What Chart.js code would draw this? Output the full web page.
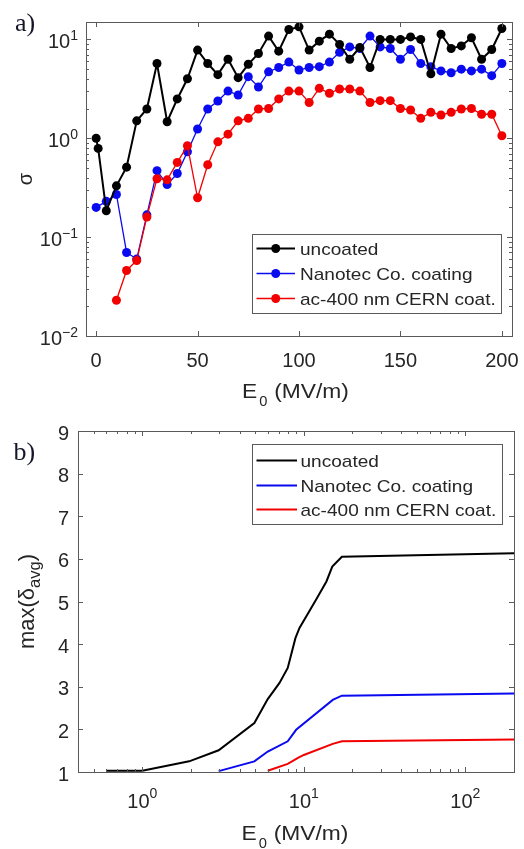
<!DOCTYPE html>
<html><head><meta charset="utf-8">
<script src="https://cdn.jsdelivr.net/npm/chart.js@4.4.0/dist/chart.umd.min.js"></script>
<style>
html,body{margin:0;padding:0;background:#fff;width:524px;height:849px;overflow:hidden}
canvas{position:absolute;left:0}
</style></head><body>
<canvas id="c1" width="524" height="415" style="top:0px"></canvas>
<canvas id="c2" width="524" height="434" style="top:415px"></canvas>
<script>
// ---------- series meta ----------
const seriesLabels = ['uncoated', 'Nanotec Co. coating', 'ac-400 nm CERN coat.'];
const seriesColors = ['#000000', '#0a0af0', '#f20000'];

// ---------- panel a) : sigma vs E0 ----------
const uncoatedE = [0,1,5,10,15,20,25,30,35,40,45,50,55,60,65,70,75,80,85,90,95,100,105,110,115,120,125,130,135,140,145,150,155,160,165,170,175,180,185,190,195,200];
const uncoatedSigma = [1.0,0.79,0.185,0.33,0.51,1.5,1.98,5.7,1.47,2.5,4.0,7.8,5.7,4.4,6.3,4.1,5.6,7.2,10.8,7.6,12.6,13.4,7.8,9.6,11.3,8.9,6.3,8.3,5.2,10,10,10,10.6,10,4.5,11.3,8.1,8.6,10.4,6.3,7.9,12.9];
const nanotecE = [0,5,10,15,20,25,30,35,40,45,50,55,60,65,70,75,80,85,90,95,100,105,110,115,120,125,130,135,140,145,150,155,160,165,170,175,180,185,190,195,200];
const nanotecSigma = [0.20,0.23,0.27,0.07,0.06,0.168,0.47,0.34,0.44,0.73,1.24,1.98,2.38,3.0,2.74,4.2,3.3,4.7,5.2,5.9,4.9,5.2,5.3,5.9,7.4,8.4,8.1,10.8,8.4,8.1,6.3,7.9,5.7,5.3,4.8,4.6,5.0,4.8,5.0,4.3,5.7];
const cernE = [10,15,20,25,30,35,40,45,50,55,60,65,70,75,80,85,90,95,100,105,110,115,120,125,130,135,140,145,150,155,160,165,170,175,180,185,190,195,200];
const cernSigma = [0.023,0.046,0.058,0.16,0.39,0.38,0.57,0.84,0.25,0.54,0.92,1.1,1.5,1.59,1.98,2.0,2.5,3.0,3.0,2.3,3.2,2.85,3.15,3.15,3.0,2.3,2.4,2.4,2.0,1.93,1.59,1.83,1.72,1.83,1.98,2.0,1.75,1.75,1.06];
const topXTicks = [0, 50, 100, 150, 200];
const topYTicks = [0.01, 0.1, 1, 10];
const topYExp = ['\u22122', '\u22121', '0', '1'];

// ---------- panel b) : max(delta_avg) vs E0 ----------
const uncoatedE0 = [0.6,1.0,1.95,2.97,4.94,5.98,7.07,7.95,8.87,9.4,11.9,13.8,15.0,17.2,200];
const uncoatedMax = [1.03,1.03,1.25,1.51,2.15,2.71,3.09,3.44,4.14,4.38,5.04,5.47,5.82,6.05,6.13];
const nanotecE0 = [2.97,4.94,5.98,7.95,8.96,15.1,17.2,200];
const nanotecMax = [1.02,1.25,1.48,1.72,1.99,2.69,2.79,2.84];
const cernE0 = [5.98,7.95,9.2,10,15.1,17.2,200];
const cernMax = [1.03,1.19,1.33,1.40,1.66,1.72,1.76];
const botXTicks = [1, 10, 100];
const botXExp = ['0', '1', '2'];
const botYTicks = [1, 2, 3, 4, 5, 6, 7, 8, 9];

// ---------- helpers ----------
const SANS = '"Liberation Sans", Arial, Helvetica, sans-serif';
const SERIF = '"Liberation Serif", "Times New Roman", serif';
const AXIS = '#5a5a5a';
const TXT = '#262626';

function pts(xs, ys) { return xs.map((x, i) => ({ x: x, y: ys[i] })); }

function drawT(ctx, s, x, y, size, align, stretch, family, color) {
  stretch = stretch || 1;
  ctx.save();
  ctx.font = size + 'px ' + (family || SANS);
  ctx.fillStyle = color || TXT;
  ctx.textBaseline = 'alphabetic';
  ctx.textAlign = 'left';
  const w = ctx.measureText(s).width * stretch;
  let x0 = x;
  if (align === 'center') x0 = x - w / 2;
  else if (align === 'right') x0 = x - w;
  ctx.translate(x0, y);
  ctx.scale(stretch, 1);
  ctx.fillText(s, 0, 0);
  ctx.restore();
  return w;
}
function measure(ctx, s, size) {
  ctx.save(); ctx.font = size + 'px ' + SANS; const w = ctx.measureText(s).width; ctx.restore(); return w;
}
function drawPow(ctx, exp, x, y, align, raise) {
  const w1 = measure(ctx, '10', 20), w2 = measure(ctx, exp, 14);
  const tot = w1 + w2;
  let x0 = x;
  if (align === 'center') x0 = x - tot / 2; else if (align === 'right') x0 = x - tot;
  drawT(ctx, '10', x0, y, 20, 'left');
  drawT(ctx, exp, x0 + w1, y - raise, 14, 'left');
}
function drawE0Title(ctx, x0, y) {
  const wE = drawT(ctx, 'E', x0, y, 20, 'left', 1.14);
  drawT(ctx, '0', x0 + wE + 2, y + 8, 14, 'left', 1.05);
  drawT(ctx, '(MV/m)', x0 + wE + 17, y, 20, 'left', 1.14);
}
function drawBox(ctx, a) {
  ctx.save();
  ctx.strokeStyle = AXIS; ctx.lineWidth = 1;
  ctx.strokeRect(Math.round(a.left) + 0.5, Math.round(a.top) + 0.5, Math.round(a.right - a.left), Math.round(a.bottom - a.top));
  ctx.restore();
}
function drawLegend(ctx, chart, box, markers) {
  ctx.save();
  ctx.fillStyle = '#fff';
  ctx.fillRect(box.x, box.y, box.w, box.h);
  ctx.strokeStyle = AXIS; ctx.lineWidth = 1;
  ctx.strokeRect(box.x + 0.5, box.y + 0.5, box.w, box.h);
  chart.data.datasets.forEach((ds, i) => {
    const y = box.rows[i];
    ctx.strokeStyle = ds.borderColor;
    ctx.lineWidth = ds.borderWidth;
    ctx.beginPath(); ctx.moveTo(box.l1, y); ctx.lineTo(box.l2, y); ctx.stroke();
    if (markers) {
      ctx.fillStyle = ds.borderColor;
      ctx.beginPath(); ctx.arc((box.l1 + box.l2) / 2, y, 4.5, 0, Math.PI * 2); ctx.fill();
    }
    drawT(ctx, ds.label, box.tx, y + 6.5, 17, 'left', 1.12);
  });
  ctx.restore();
}

// ---------- panel a) ----------
const decoA = {
  id: 'decoA',
  afterDraw(chart) {
    const ctx = chart.ctx, a = chart.chartArea, xs = chart.scales.x, ys = chart.scales.y;
    ctx.save();
    ctx.strokeStyle = AXIS; ctx.lineWidth = 1;
    ctx.beginPath();
    topXTicks.forEach(v => {
      const p = Math.round(xs.getPixelForValue(v)) + 0.5;
      ctx.moveTo(p, a.bottom); ctx.lineTo(p, a.bottom - 5);
      ctx.moveTo(p, a.top); ctx.lineTo(p, a.top + 5);
    });
    topYTicks.forEach(d => {
      for (let k = 1; k <= 9; k++) {
        const v = k * d;
        if (v > ys.max * 1.0001 || v < ys.min * 0.9999) continue;
        const p = Math.round(ys.getPixelForValue(v)) + 0.5;
        const L = k === 1 ? 5 : 3;
        ctx.moveTo(a.left, p); ctx.lineTo(a.left + L, p);
        ctx.moveTo(a.right, p); ctx.lineTo(a.right - L, p);
      }
    });
    ctx.stroke();
    ctx.restore();
    drawBox(ctx, a);
    topXTicks.forEach(v => drawT(ctx, String(v), xs.getPixelForValue(v), a.bottom + 31, 20, 'center'));
    topYTicks.forEach((v, i) => drawPow(ctx, topYExp[i], a.left - 8, ys.getPixelForValue(v) + 8.5, 'right', 8));
    // y title
    ctx.save();
    ctx.translate(31.5, (a.top + a.bottom) / 2);
    ctx.rotate(-Math.PI / 2);
    ctx.font = '20px ' + SANS; ctx.fillStyle = TXT; ctx.textAlign = 'center'; ctx.textBaseline = 'alphabetic';
    ctx.fillText('\u03C3', 0, 0);
    ctx.restore();
    // x title
    drawE0Title(ctx, (a.left + a.right) / 2 - 57, 398);
    // panel label
    drawT(ctx, 'a)', 15, 30.5, 26, 'left', 1, SERIF, '#15152a');
    // legend
    drawLegend(ctx, chart, { x: 252, y: 234, w: 249, h: 79, rows: [248.5, 273.5, 298.5], l1: 256.5, l2: 295, tx: 300 }, true);
  }
};

new Chart(document.getElementById('c1'), {
  type: 'line',
  data: {
    datasets: [
      { label: seriesLabels[0], data: pts(uncoatedE, uncoatedSigma), borderColor: seriesColors[0], backgroundColor: seriesColors[0], borderWidth: 2, pointRadius: 4.5, pointBorderWidth: 0, pointBackgroundColor: seriesColors[0], order: 0, clip: false },
      { label: seriesLabels[1], data: pts(nanotecE, nanotecSigma), borderColor: seriesColors[1], backgroundColor: seriesColors[1], borderWidth: 1.3, pointRadius: 4.5, pointBorderWidth: 0, pointBackgroundColor: seriesColors[1], order: 2, clip: false },
      { label: seriesLabels[2], data: pts(cernE, cernSigma), borderColor: seriesColors[2], backgroundColor: seriesColors[2], borderWidth: 1.3, pointRadius: 4.5, pointBorderWidth: 0, pointBackgroundColor: seriesColors[2], order: 1, clip: false }
    ]
  },
  options: {
    responsive: false, animation: false, events: [],
    layout: { padding: { left: 86, top: 22, right: 12, bottom: 79 } },
    plugins: { legend: { display: false }, tooltip: { enabled: false }, title: { display: false } },
    scales: {
      x: { type: 'linear', min: -5, max: 205, display: false },
      y: { type: 'logarithmic', min: 0.01, max: 15, display: false }
    }
  },
  plugins: [decoA]
});

// ---------- panel b) ----------
const decoB = {
  id: 'decoB',
  afterDraw(chart) {
    const ctx = chart.ctx, a = chart.chartArea, xs = chart.scales.x, ys = chart.scales.y;
    ctx.save();
    ctx.strokeStyle = AXIS; ctx.lineWidth = 1;
    ctx.beginPath();
    [0.1, 1, 10, 100].forEach(d => {
      for (let k = 1; k <= 9; k++) {
        const v = k * d;
        if (v > xs.max * 1.0001 || v < xs.min * 0.9999) continue;
        const p = Math.round(xs.getPixelForValue(v)) + 0.5;
        const L = k === 1 ? 5 : 3;
        ctx.moveTo(p, a.bottom); ctx.lineTo(p, a.bottom - L);
        ctx.moveTo(p, a.top); ctx.lineTo(p, a.top + L);
      }
    });
    botYTicks.forEach(v => {
      const p = Math.round(ys.getPixelForValue(v)) + 0.5;
      ctx.moveTo(a.left, p); ctx.lineTo(a.left + 5, p);
      ctx.moveTo(a.right, p); ctx.lineTo(a.right - 5, p);
    });
    ctx.stroke();
    ctx.restore();
    drawBox(ctx, a);
    botXTicks.forEach((v, i) => drawPow(ctx, botXExp[i], xs.getPixelForValue(v), a.bottom + 36, 'center', 10));
    botYTicks.forEach(v => drawT(ctx, String(v), a.left - 9, ys.getPixelForValue(v) + 8.5, 20, 'right'));
    // y title: max(δ_avg)
    ctx.save();
    const wMain = measure(ctx, 'max(\u03B4', 22), wSub = measure(ctx, 'avg', 16.5), wEnd = measure(ctx, ')', 22);
    ctx.translate(33.5, (a.top + a.bottom) / 2);
    ctx.rotate(-Math.PI / 2);
    const start = -(wMain + wSub + wEnd) / 2;
    ctx.fillStyle = TXT; ctx.textBaseline = 'alphabetic'; ctx.textAlign = 'left';
    ctx.font = '22px ' + SANS; ctx.fillText('max(\u03B4', start, 0);
    ctx.font = '16.5px ' + SANS; ctx.fillText('avg', start + wMain, 6);
    ctx.font = '22px ' + SANS; ctx.fillText(')', start + wMain + wSub, 0);
    ctx.restore();
    // x title
    drawE0Title(ctx, (a.left + a.right) / 2 - 54.5, 425);
    // panel label
    drawT(ctx, 'b)', 13.5, 45, 26, 'left', 1, SERIF, '#15152a');
    // legend
    drawLegend(ctx, chart, { x: 252, y: 29, w: 250, h: 80, rows: [45.5, 70.5, 94.5], l1: 256.5, l2: 297, tx: 300.5 }, false);
  }
};

new Chart(document.getElementById('c2'), {
  type: 'line',
  data: {
    datasets: [
      { label: seriesLabels[0], data: pts(uncoatedE0, uncoatedMax), borderColor: seriesColors[0], borderWidth: 2, pointRadius: 0, order: 0, clip: false },
      { label: seriesLabels[1], data: pts(nanotecE0, nanotecMax), borderColor: seriesColors[1], borderWidth: 2, pointRadius: 0, order: 1, clip: false },
      { label: seriesLabels[2], data: pts(cernE0, cernMax), borderColor: seriesColors[2], borderWidth: 2, pointRadius: 0, order: 2, clip: false }
    ]
  },
  options: {
    responsive: false, animation: false, events: [],
    layout: { padding: { left: 78, top: 16, right: 10, bottom: 77 } },
    plugins: { legend: { display: false }, tooltip: { enabled: false }, title: { display: false } },
    scales: {
      x: { type: 'logarithmic', min: 0.4, max: 200, display: false },
      y: { type: 'linear', min: 1, max: 9, display: false }
    }
  },
  plugins: [decoB]
});
</script>
</body></html>
